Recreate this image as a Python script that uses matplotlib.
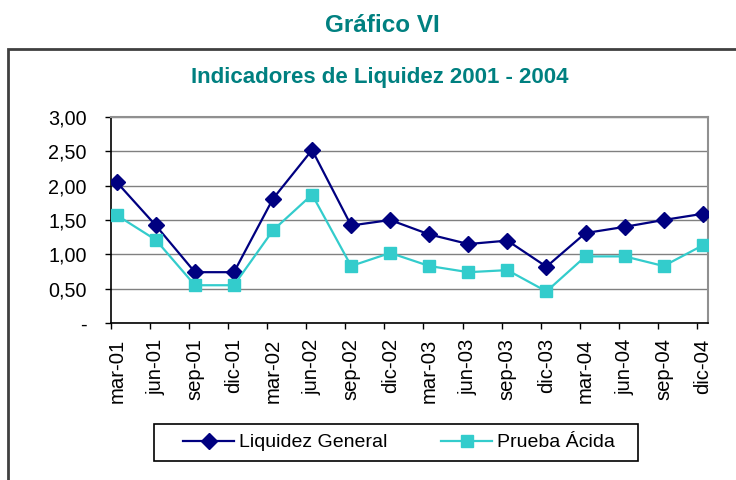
import matplotlib
matplotlib.use("Agg")
import matplotlib.pyplot as plt
from matplotlib.patches import Rectangle
from matplotlib.lines import Line2D
import numpy as np

periods = ["mar-01", "jun-01", "sep-01", "dic-01", "mar-02", "jun-02", "sep-02", "dic-02",
           "mar-03", "jun-03", "sep-03", "dic-03", "mar-04", "jun-04", "sep-04", "dic-04"]
liquidez_general = [2.05, 1.42, 0.74, 0.74, 1.81, 2.52, 1.42, 1.50,
                    1.29, 1.15, 1.20, 0.82, 1.31, 1.40, 1.50, 1.59]
prueba_acida = [1.57, 1.21, 0.55, 0.55, 1.35, 1.87, 0.83, 1.02,
                0.83, 0.74, 0.77, 0.46, 0.97, 0.97, 0.83, 1.13]
y_ticks = [0, 0.5, 1.0, 1.5, 2.0, 2.5, 3.0]
y_labels = ["-", "0,50", "1,00", "1,50", "2,00", "2,50", "3,00"]

TEAL = "#008080"
NAVY = "#000080"
CYAN = "#33CCCC"

plt.rcParams["font.family"] = ["Liberation Sans", "DejaVu Sans"]

W, H = 736, 480
fig = plt.figure(figsize=(W / 100, H / 100), dpi=100)

# outer chart frame (runs off the right and bottom edges)
fig.patches.append(Rectangle((8 / W, -0.05), 1.1, (H - 49) / H + 0.05,
                             transform=fig.transFigure, fill=False,
                             edgecolor="#404040", lw=2))

fig.text(382 / W, 1 - 26 / H, "Gráfico VI", ha="center", va="center",
         color=TEAL, fontsize=17.5, fontweight="bold")
fig.text(380 / W, 1 - 77 / H, "Indicadores de Liquidez 2001 - 2004", ha="center",
         va="center", color=TEAL, fontsize=16, fontweight="bold")

ax = fig.add_axes([111 / W, 1 - 323 / H, (708 - 111) / W, (323 - 117) / H])
x = np.arange(len(periods))
ax.plot(x, liquidez_general, color=NAVY, lw=1.6, marker="D", ms=8.5,
        markeredgecolor=NAVY, label="Liquidez General", zorder=3)
ax.plot(x, prueba_acida, color=CYAN, lw=1.6, marker="s", ms=8.5,
        markeredgecolor=CYAN, label="Prueba Ácida", zorder=3)

ax.set_xlim(-0.146, 15.136)
ax.set_ylim(0, 3.0)
ax.set_yticks(y_ticks)
ax.set_yticklabels(y_labels, fontsize=14.2)
ax.set_xticks(x)
ax.set_xticklabels(periods, rotation=90, fontsize=14.6)
ax.tick_params(axis="x", which="major", length=0, pad=11)
ax.set_xticks(x - 0.148, minor=True)
ax.tick_params(axis="x", which="minor", length=4.5, width=1, color="black")
ax.tick_params(axis="y", length=4.5, width=1, pad=13)

ax.grid(axis="y", color="#808080", lw=1)
ax.set_axisbelow(True)
for side in ("left", "bottom"):
    ax.spines[side].set_color("black")
    ax.spines[side].set_linewidth(1.2)
for side in ("top", "right"):
    ax.spines[side].set_color("#909090")
    ax.spines[side].set_linewidth(1.5)

handles = [
    Line2D([], [], color=NAVY, lw=1.6, marker="D", ms=8.5, markeredgecolor=NAVY),
    Line2D([], [], color=CYAN, lw=1.6, marker="s", ms=8.5, markeredgecolor=CYAN),
]
# legend box drawn separately to get the wide Excel-style frame
fig.patches.append(Rectangle((154 / W, 1 - 461 / H), (638 - 154) / W, 37 / H,
                             transform=fig.transFigure, fill=False,
                             edgecolor="black", lw=1.2))
fig.legend(handles, ["Liquidez General", "Prueba Ácida"], ncol=2,
           loc="center", bbox_to_anchor=(399 / W, 1 - 442.5 / H),
           fontsize=14, frameon=False, handlelength=2.6, columnspacing=2.8,
           handletextpad=0.25, borderpad=0.3)

fig.savefig("out.png", dpi=100)
